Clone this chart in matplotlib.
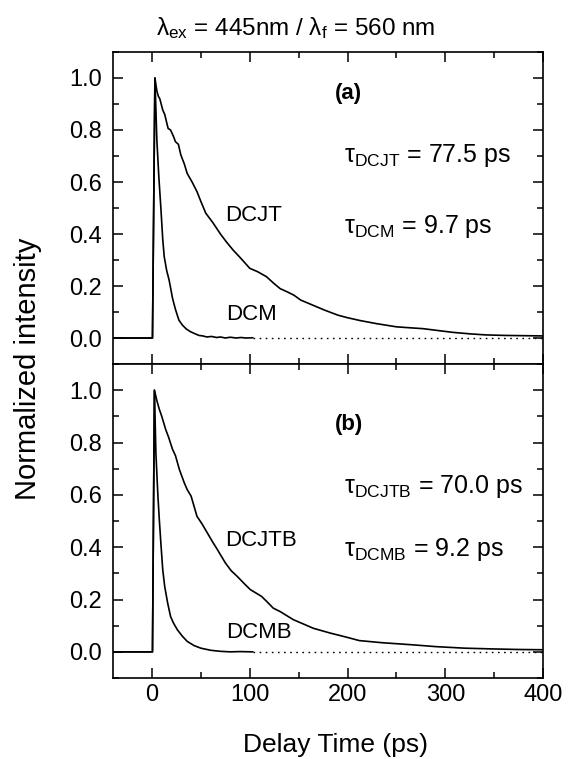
import matplotlib
matplotlib.use('Agg')
import matplotlib.pyplot as plt
from matplotlib.ticker import MultipleLocator

plt.rcParams['font.family'] = ['Liberation Sans', 'DejaVu Sans']
plt.rcParams['mathtext.fontset'] = 'custom'
plt.rcParams['mathtext.rm'] = 'Liberation Sans'
plt.rcParams['mathtext.it'] = 'Liberation Sans'
plt.rcParams['mathtext.default'] = 'regular'

# panel (a)
dcjt_t = [-40, 0.5, 3, 5, 6.5, 8, 11, 13, 16.5, 19, 22, 24, 27, 29.5, 33, 36, 41, 46, 50, 55,
          62, 70, 76, 83, 90, 100, 108, 117, 124, 131, 138, 145, 152, 164, 176, 190, 200, 213,
          230, 250, 265, 277, 292, 307, 325, 341, 360, 380, 400]
dcjt_i = [0, 0, 1.0, 0.95, 0.93, 0.92, 0.877, 0.86, 0.806, 0.80, 0.775, 0.755, 0.745, 0.704,
          0.67, 0.633, 0.60, 0.563, 0.525, 0.48, 0.445, 0.40, 0.37, 0.338, 0.31, 0.268, 0.255,
          0.236, 0.212, 0.19, 0.178, 0.165, 0.146, 0.127, 0.108, 0.088, 0.078, 0.067, 0.055,
          0.043, 0.039, 0.036, 0.029, 0.022, 0.016, 0.012, 0.010, 0.009, 0.008]
dcm_t = [-40, 0.5, 3, 5, 7, 9, 11, 12.5, 15, 17.5, 21, 24, 27.5, 31, 35, 39, 43, 48, 52, 56,
         61, 66, 70, 75, 80, 86, 91, 96, 103]
dcm_i = [0, 0, 1.0, 0.76, 0.62, 0.505, 0.38, 0.313, 0.26, 0.223, 0.153, 0.11, 0.069, 0.05,
         0.035, 0.025, 0.018, 0.01, 0.008, 0.004, 0.006, 0.002, 0.004, 0.0, 0.003, 0.0, 0.002,
         0.0, 0.001]

# panel (b)
dcjtb_t = [-40, 0.5, 2.5, 5, 7.5, 10, 14, 17, 21, 24, 28, 33, 36, 40, 46, 51, 56.5, 62, 67, 75,
           81, 87, 94, 100.5, 112, 118, 124, 131, 144.5, 165, 182, 200, 212, 235, 266, 290,
           320, 350, 375, 400]
dcjtb_i = [0, 0, 1.0, 0.96, 0.927, 0.9, 0.85, 0.82, 0.774, 0.75, 0.697, 0.646, 0.62, 0.595,
           0.518, 0.49, 0.455, 0.42, 0.39, 0.34, 0.31, 0.289, 0.262, 0.238, 0.212, 0.19, 0.167,
           0.154, 0.123, 0.09, 0.072, 0.055, 0.043, 0.035, 0.027, 0.02, 0.014, 0.011, 0.009, 0.008]
dcmb_t = [-40, 0.5, 2.5, 4, 6, 7.5, 9, 11, 13, 16, 19, 22, 26, 31, 36, 43, 50, 60, 70, 80, 90, 103]
dcmb_i = [0, 0, 1.0, 0.76, 0.6, 0.505, 0.42, 0.314, 0.25, 0.187, 0.135, 0.11, 0.084, 0.06,
          0.04, 0.024, 0.014, 0.006, 0.002, 0.0, 0.001, 0.0]

dot_t = [103, 400]
dot_i = [0, 0]

panels = [
    (dcjt_t, dcjt_i, dcm_t, dcm_i, 'DCJT', 0.47, 'DCM', 0.09, '(a)', 0.94,
     r'$\tau_{DCJT}$ = 77.5 ps', 0.70, r'$\tau_{DCM}$ = 9.7 ps', 0.43),
    (dcjtb_t, dcjtb_i, dcmb_t, dcmb_i, 'DCJTB', 0.427, 'DCMB', 0.075, '(b)', 0.87,
     r'$\tau_{DCJTB}$ = 70.0 ps', 0.63, r'$\tau_{DCMB}$ = 9.2 ps', 0.39),
]

fig = plt.figure(figsize=(5.7, 7.59), dpi=100)
ax1 = fig.add_axes([0.198, 0.5204, 0.755, 0.4111])
ax2 = fig.add_axes([0.198, 0.1067, 0.755, 0.4137], sharex=ax1)

for ax, p in zip([ax1, ax2], panels):
    t1, i1, t2, i2, l1, y1, l2, y2, tag, ytag, tau1, yt1, tau2, yt2 = p
    ax.plot(t1, i1, color='black', lw=1.2)
    ax.plot(t2, i2, color='black', lw=1.2)
    ax.plot(dot_t, dot_i, color='black', lw=1.0, linestyle=(0, (1.2, 3.2)))
    ax.text(75, y1, l1, fontsize=16, va='center')
    ax.text(76, y2, l2, fontsize=16, va='center')
    ax.text(187, ytag, tag, fontsize=16, fontweight='bold', va='center')
    ax.text(196, yt1, tau1, fontsize=18, va='center')
    ax.text(196, yt2, tau2, fontsize=18, va='center')
    ax.set_xlim(-40, 400)
    ax.set_ylim(-0.1, 1.1)
    ax.xaxis.set_major_locator(MultipleLocator(100))
    ax.xaxis.set_minor_locator(MultipleLocator(50))
    ax.yaxis.set_major_locator(MultipleLocator(0.2))
    ax.yaxis.set_minor_locator(MultipleLocator(0.1))
    ax.set_yticks([0.0, 0.2, 0.4, 0.6, 0.8, 1.0])
    ax.set_yticklabels(['0.0', '0.2', '0.4', '0.6', '0.8', '1.0'])
    ax.tick_params(which='both', direction='in', top=True, right=True, width=1.1)
    ax.tick_params(which='major', length=7)
    ax.tick_params(which='minor', length=4)
    ax.tick_params(axis='y', labelsize=17, pad=8)
    ax.tick_params(axis='x', labelsize=17, pad=4)
    for s in ax.spines.values():
        s.set_linewidth(1.2)

ax1.tick_params(axis='x', labelbottom=False)

fig.text(0.518, 1 - 35 / 759, r'$\lambda_{ex}$ = 445nm / $\lambda_{f}$ = 560 nm',
         fontsize=17.5, ha='center', va='baseline')
fig.text(28 / 570, 1 - 369 / 759, 'Normalized intensity', fontsize=21, rotation=90,
         ha='center', va='center')
fig.text(335 / 570, 14 / 759, 'Delay Time (ps)', fontsize=19, ha='center', va='center')

fig.savefig('out.png', dpi=100)
